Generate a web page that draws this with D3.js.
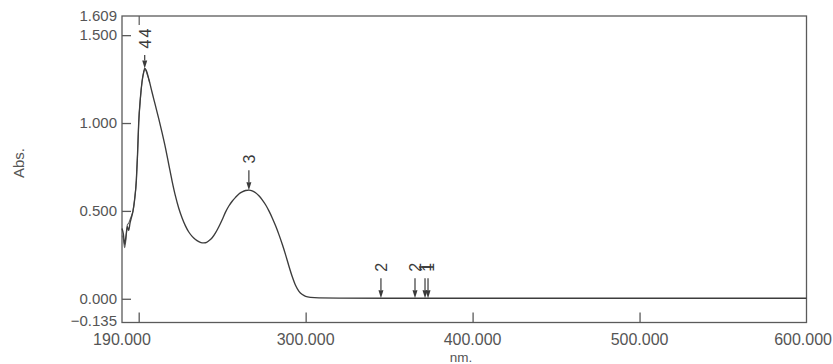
<!DOCTYPE html>
<html>
<head>
<meta charset="utf-8">
<script src="https://cdn.jsdelivr.net/npm/d3@7"></script>
<style>
  html, body { margin: 0; padding: 0; background: #ffffff; }
  svg { display: block; }
  text { font-family: "Liberation Sans", Arial, Helvetica, sans-serif; }
</style>
</head>
<body>
<svg id="chart" width="833" height="364"></svg>
<script>
// Wavelength axis (nm) and absorbance of the first scan
const scanA_nm = [190, 190.8, 191.6, 192.4, 193.2, 194.0, 194.8, 195.6, 196.6, 197.5,
  198.6, 199.3, 200.0, 201.0, 202.0, 203.0, 203.6, 204.5, 205.5, 206.6,
  208, 210, 212, 214, 216, 218, 220, 222, 224, 226,
  228, 230, 232, 234, 236, 238, 240, 242, 244, 246,
  248, 250, 252, 254, 256, 258, 260, 262, 264, 266,
  268, 270, 272, 274, 276, 278, 280, 282, 284, 286,
  288, 290, 292, 294, 296, 298, 300, 303, 308, 320,
  350, 400, 450, 500, 550, 600];
const scanA_abs = [0.40, 0.37, 0.31, 0.36, 0.41, 0.39, 0.43, 0.46, 0.50, 0.56,
  0.675, 0.82, 1.00, 1.14, 1.235, 1.29, 1.31, 1.30, 1.27, 1.23,
  1.175, 1.10, 1.025, 0.945, 0.86, 0.765, 0.67, 0.585, 0.515, 0.46,
  0.415, 0.38, 0.355, 0.337, 0.325, 0.318, 0.319, 0.33, 0.347, 0.375,
  0.41, 0.45, 0.493, 0.528, 0.555, 0.577, 0.596, 0.608, 0.616, 0.618,
  0.614, 0.603, 0.586, 0.563, 0.535, 0.50, 0.46, 0.415, 0.365, 0.31,
  0.25, 0.185, 0.125, 0.075, 0.042, 0.024, 0.014, 0.008, 0.005, 0.004,
  0.003, 0.003, 0.003, 0.003, 0.003, 0.003];

// Second scan, short wavelength end (joins the first scan above 206 nm)
const scanB_nm = [190, 190.8, 191.6, 192.4, 193.2, 194.0, 194.8, 195.6, 196.6, 197.5,
  198.6, 199.3, 200.0, 201.0, 202.0, 203.0, 203.6, 204.5, 205.5, 206.6];
const scanB_abs = [0.36, 0.34, 0.29, 0.34, 0.42, 0.43, 0.45, 0.47, 0.50, 0.56,
  0.675, 0.82, 1.00, 1.14, 1.235, 1.29, 1.305, 1.295, 1.265, 1.23];

// Peak / valley pick markers
const pick_nm = [203.6, 203.6, 266.0, 345.1, 365.5, 371.5, 373.3];
const pick_abs = [1.31, 1.31, 0.618, 0.003, 0.003, 0.003, 0.003];
const pick_label = ["4", "4", "3", "2", "2", "1", "1"];

// Axis ticks and end labels
const xDomain = [190, 600];
const yDomain = [-0.135, 1.609];
const xTicks = [200, 300, 400, 500];
const xTopTicks = [200];
const xTickLabels = [300, 400, 500];
const yTicks = [0, 0.5, 1.0, 1.5];
const xTitle = "nm.";
const yTitle = "Abs.";

const svg = d3.select("#chart");
const W = 833;
const frame = { left: 122, right: 806.5, top: 16, bottom: 322.5 };

const x = d3.scaleLinear().domain(xDomain).range([frame.left, frame.right]);
const y = d3.scaleLinear().domain(yDomain).range([frame.bottom, frame.top]);
const fmt = d3.format(".3f");

const axisColor = "#5a5a5a";
const textColor = "#555";
const lineColor = "#3c3c3c";

// Plot frame
svg.append("rect")
  .attr("x", frame.left).attr("y", frame.top)
  .attr("width", frame.right - frame.left)
  .attr("height", frame.bottom - frame.top)
  .attr("fill", "none").attr("stroke", axisColor).attr("stroke-width", 1.3);

// Y axis: inward ticks at the left edge
const yAxis = d3.axisRight(y).tickValues(yTicks).tickSize(9).tickFormat("");
svg.append("g").attr("transform", `translate(${frame.left},0)`).call(yAxis)
  .call(g => g.select(".domain").remove())
  .call(g => g.selectAll("line").attr("stroke", axisColor).attr("stroke-width", 1.3));

const yLabelValues = [yDomain[1]].concat(yTicks.slice().reverse(), [yDomain[0]]);
svg.append("g").selectAll("text").data(yLabelValues).join("text")
  .attr("x", frame.left - 5)
  .attr("y", d => y(d) + (d === yDomain[0] ? -2 : 0))
  .attr("dy", "0.35em")
  .attr("text-anchor", "end")
  .attr("font-size", 15)
  .attr("fill", textColor)
  .text(d => fmt(d));

// X axis: inward ticks at the bottom edge, one short tick on the top edge
const xAxis = d3.axisTop(x).tickValues(xTicks).tickSize(10).tickFormat("");
svg.append("g").attr("transform", `translate(0,${frame.bottom})`).call(xAxis)
  .call(g => g.select(".domain").remove())
  .call(g => g.selectAll("line").attr("stroke", axisColor).attr("stroke-width", 1.3));

const xTopAxis = d3.axisBottom(x).tickValues(xTopTicks).tickSize(9).tickFormat("");
svg.append("g").attr("transform", `translate(0,${frame.top})`).call(xTopAxis)
  .call(g => g.select(".domain").remove())
  .call(g => g.selectAll("line").attr("stroke", axisColor).attr("stroke-width", 1.2));

const xLabelValues = [xDomain[0]].concat(xTickLabels, [xDomain[1]]);
svg.append("g").selectAll("text").data(xLabelValues).join("text")
  .attr("x", d => d === xDomain[1] ? W - 1 : x(d))
  .attr("y", 345)
  .attr("text-anchor", d => d === xDomain[1] ? "end" : "middle")
  .attr("font-size", 16)
  .attr("fill", textColor)
  .text(d => fmt(d));

// Axis titles
svg.append("text")
  .attr("x", 461).attr("y", 362)
  .attr("text-anchor", "middle")
  .attr("font-size", 13.5)
  .attr("fill", textColor)
  .text(xTitle);

svg.append("text")
  .attr("transform", "translate(24,163) rotate(-90)")
  .attr("text-anchor", "middle")
  .attr("font-size", 15)
  .attr("fill", textColor)
  .text(yTitle);

// Spectra
const line = d3.line()
  .x(d => x(d[0]))
  .y(d => y(d[1]))
  .curve(d3.curveMonotoneX);

const plot = svg.append("g");
plot.append("path")
  .datum(d3.zip(scanB_nm, scanB_abs))
  .attr("d", line)
  .attr("fill", "none").attr("stroke", "#666").attr("stroke-width", 1.1);
plot.append("path")
  .datum(d3.zip(scanA_nm, scanA_abs))
  .attr("d", line)
  .attr("fill", "none").attr("stroke", lineColor).attr("stroke-width", 1.35);

// Pick markers: arrow pointing down at the curve, rotated index label above
const picks = pick_nm.map((nm, i) => ({ nm, abs: pick_abs[i], label: pick_label[i] }));
const labelGap = 31, stackStep = 11;
const groups = d3.groups(picks, d => d.nm);
const markers = svg.append("g");
groups.forEach(([nm, items]) => {
  const px = x(nm);
  const tip = y(items[0].abs);
  const n = items.length;
  const lowest = Math.max(tip - labelGap, frame.top + 17 + (n - 1) * stackStep);
  items.forEach((d, k) => {
    const ly = lowest - k * stackStep;
    markers.append("text")
      .attr("transform", `translate(${px + 0.5},${ly}) rotate(-90)`)
      .attr("text-anchor", "middle")
      .attr("dy", "0.36em")
      .attr("font-size", 16)
      .attr("fill", "#3a3a3a")
      .text(d.label);
  });
  const start = lowest + 11;
  const headTop = tip - 8;
  markers.append("line")
    .attr("x1", px).attr("x2", px)
    .attr("y1", start).attr("y2", headTop)
    .attr("stroke", "#3a3a3a").attr("stroke-width", 1.2);
  markers.append("path")
    .attr("d", `M${px - 2.5},${headTop} L${px + 2.5},${headTop} L${px},${tip} Z`)
    .attr("fill", "#3a3a3a");
});
</script>
</body>
</html>
